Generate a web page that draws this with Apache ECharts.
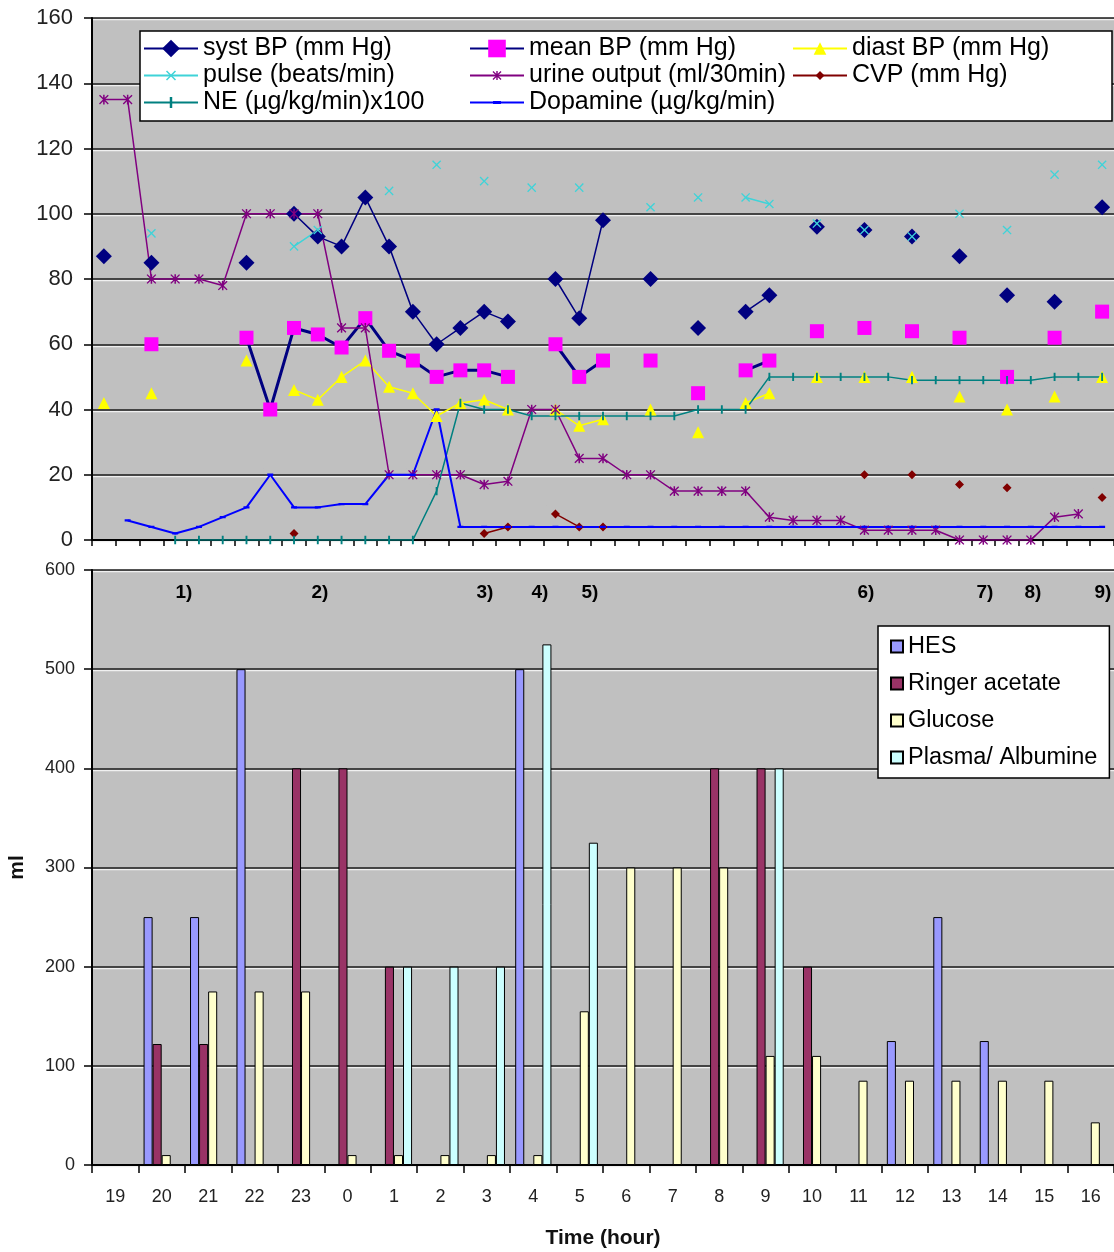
<!DOCTYPE html>
<html><head><meta charset="utf-8">
<script src="https://cdn.jsdelivr.net/npm/echarts@6/dist/echarts.min.js"></script>
<style>html,body{margin:0;padding:0;background:#fff}#c{width:1114px;height:1252px}</style>
</head><body><div id="c"></div>
<script>
// ---------- DATA ----------
const halfHours = ['19:00','19:30','20:00','20:30','21:00','21:30','22:00','22:30','23:00','23:30',
  '0:00','0:30','1:00','1:30','2:00','2:30','3:00','3:30','4:00','4:30','5:00','5:30','6:00','6:30',
  '7:00','7:30','8:00','8:30','9:00','9:30','10:00','10:30','11:00','11:30','12:00','12:30','13:00',
  '13:30','14:00','14:30','15:00','15:30','16:00'];
const hours = ['19','20','21','22','23','0','1','2','3','4','5','6','7','8','9','10','11','12','13','14','15','16'];

const systBP = [87,null,85,null,null,null,85,null,100,93,90,105,90,70,60,65,70,67,null,80,68,98,null,80,null,65,null,70,75,null,96,null,95,null,93,null,87,null,75,null,73,null,102];
const meanBP = [null,null,60,null,null,null,62,40,65,63,59,68,58,55,50,52,52,50,null,60,50,55,null,55,null,45,null,52,55,null,64,null,65,null,64,null,62,null,50,null,62,null,70];
const diastBP = [42,null,45,null,null,null,55,null,46,43,50,55,47,45,38,42,43,40,null,40,35,37,null,40,null,33,null,42,45,null,50,null,50,null,50,null,44,null,40,null,44,null,50];
const pulse = [null,null,94,null,null,null,null,null,90,95,null,null,107,null,115,null,110,null,108,null,108,null,null,102,null,105,null,105,103,null,97,null,95,null,93,null,100,null,95,null,112,null,115];
const urine = [135,135,80,80,80,78,100,100,100,100,65,65,20,20,20,20,17,18,40,40,25,25,20,20,15,15,15,15,7,6,6,6,3,3,3,3,0,0,0,0,7,8,null];
const cvp = [null,null,null,null,null,null,null,null,2,null,null,null,null,null,null,null,2,4,null,8,4,4,null,null,null,null,null,null,null,null,null,null,20,null,20,null,17,null,16,null,null,null,13];
const ne = [null,null,null,0,0,0,0,0,0,0,0,0,0,0,15,42,40,40,38,38,38,38,38,38,38,40,40,40,50,50,50,50,50,50,49,49,49,49,49,49,50,50,50];
const dopamine = [null,6,4,2,4,7,10,20,10,10,11,11,20,20,40,4,4,4,4,4,4,4,4,4,4,4,4,4,4,4,4,4,4,4,4,4,4,4,4,4,4,4,4];

const hes =     [null,250,250,500,null,null,null,null,null,500,null,null,null,null,null,null,null,125,250,125,null,null];
const ringer =  [null,122,122,null,400,400,200,null,null,null,null,null,null,400,400,200,null,null,null,null,null,null];
const glucose = [null,10,175,175,175,10,10,10,10,10,155,300,300,300,110,110,85,85,85,85,85,43];
const plasma =  [null,null,null,null,null,null,200,200,200,525,325,null,null,null,400,null,null,null,null,null,null,null];

const topTicks = [0,20,40,60,80,100,120,140,160];
const bottomTicks = [0,100,200,300,400,500,600];
const notes = ['1)','2)','3)','4)','5)','6)','7)','8)','9)'];

// ---------- LAYOUT / STYLE ----------
const noteX = [184,320,485,540,590,866,985,1033,1103];
const FONT = 'Liberation Sans, Arial, sans-serif';
const corners = 'M0,0L0.05,0L0,0.05Z M10,10L9.95,10L10,9.95Z ';
const crossPath = 'path://' + corners + 'M2.15,2.75L2.75,2.15L5,4.4L7.25,2.15L7.85,2.75L5.6,5L7.85,7.25L7.25,7.85L5,5.6L2.75,7.85L2.15,7.25L4.4,5Z';
const starPath = 'path://' + corners + 'M2.45,2.95L2.95,2.45L5,4.5L7.05,2.45L7.55,2.95L5.5,5L7.55,7.05L7.05,7.55L5,5.5L2.95,7.55L2.45,7.05L4.5,5Z M4.6,2.45L5.4,2.45L5.4,7.55L4.6,7.55Z';
const smallDiamond = 'path://' + corners + 'M5,2.45L7.55,5L5,7.55L2.45,5Z';
const smallTriangle = 'path://' + corners + 'M5,1.4L8.6,8.6L1.4,8.6Z';
const tickPath = 'path://' + corners + 'M4.3,1.9L5.7,1.9L5.7,8.1L4.3,8.1Z';
const dashPath = 'path://' + corners + 'M2.75,4.15L7.25,4.15L7.25,5.85L2.75,5.85Z';
const split = {show:true, lineStyle:{color:'#1a1a1a', width:1.5, shadowColor:'#f0f0f0', shadowOffsetY:1.5, shadowBlur:0}};

function line(name, data, opt) {
  return Object.assign({
    name, type:'line', data, xAxisIndex:0, yAxisIndex:0,
    showAllSymbol:true, connectNulls:false, animation:false
  }, opt);
}
function bar(name, data, color) {
  return {name, type:'bar', data, xAxisIndex:1, yAxisIndex:1, barGap:'0%', barCategoryGap:'22%',
    itemStyle:{color, borderColor:'#000', borderWidth:1}, animation:false};
}
const legendCommon = {orient:'vertical', itemWidth:54, itemHeight:22, itemGap:0, padding:0,
  selectedMode:false, z:10, textStyle:{fontSize:25, lineHeight:27, fontFamily:FONT, color:'#000'}};

const chart = echarts.init(document.getElementById('c'));
chart.setOption({
  backgroundColor:'#fff',
  animation:false,
  textStyle:{fontFamily:FONT},
  grid:[
    {left:92, right:0, top:18, height:522, show:true, backgroundColor:'#c0c0c0', borderWidth:0, outerBoundsMode:'none', containLabel:false},
    {left:92, right:0, top:570, height:595, show:true, backgroundColor:'#c0c0c0', borderWidth:0, outerBoundsMode:'none', containLabel:false}
  ],
  xAxis:[
    {type:'category', gridIndex:0, data:halfHours, boundaryGap:true,
     axisLine:{lineStyle:{color:'#000', width:2}},
     axisTick:{show:true, interval:0, length:6, lineStyle:{color:'#000', width:1.5}},
     axisLabel:{show:false}, splitLine:{show:false}},
    {type:'category', gridIndex:1, data:hours, boundaryGap:true,
     axisLine:{lineStyle:{color:'#000', width:2}},
     axisTick:{show:true, interval:0, length:8, lineStyle:{color:'#000', width:1.5}},
     axisLabel:{fontSize:18, color:'#222', margin:23, interval:0},
     name:'Time (hour)', nameLocation:'middle', nameGap:63,
     nameTextStyle:{fontSize:21, fontWeight:'bold', color:'#111'}}
  ],
  yAxis:[
    {type:'value', gridIndex:0, min:topTicks[0], max:topTicks[topTicks.length-1], interval:20,
     axisLine:{show:true, lineStyle:{color:'#000', width:2}},
     axisTick:{show:true, length:8, lineStyle:{color:'#000', width:1.5}},
     axisLabel:{fontSize:22, color:'#222', margin:19}, splitLine:split},
    {type:'value', gridIndex:1, min:bottomTicks[0], max:bottomTicks[bottomTicks.length-1], interval:100,
     axisLine:{show:true, lineStyle:{color:'#000', width:2}},
     axisTick:{show:true, length:8, lineStyle:{color:'#000', width:1.5}},
     axisLabel:{fontSize:18, color:'#222', margin:17}, splitLine:split,
     name:'ml', nameLocation:'middle', nameGap:64,
     nameTextStyle:{fontSize:21, fontWeight:'bold', color:'#111'}}
  ],
  legend:[
    Object.assign({}, legendCommon, {left:143, top:35, data:['syst BP (mm Hg)','pulse (beats/min)','NE (µg/kg/min)x100']}),
    Object.assign({}, legendCommon, {left:469, top:35, data:['mean BP (mm Hg)','urine output (ml/30min)','Dopamine (µg/kg/min)']}),
    Object.assign({}, legendCommon, {left:792, top:35, data:['diast BP (mm Hg)','CVP (mm Hg)']}),
    {orient:'vertical', left:878, top:626, itemWidth:12, itemHeight:12, itemGap:0, icon:'rect',
     padding:[2,12,2,12], backgroundColor:'#fff', borderColor:'#000', borderWidth:1.5,
     selectedMode:false, z:10,
     textStyle:{fontSize:23.5, lineHeight:37, fontFamily:FONT, color:'#000'},
     data:['HES','Ringer acetate','Glucose','Plasma/ Albumine']}
  ],
  graphic:[
    {type:'rect', z:5, shape:{x:140, y:31, width:972, height:90},
     style:{fill:'#fff', stroke:'#000', lineWidth:1.5}}
  ].concat(notes.map((t,i)=>({type:'text', z:6, x:noteX[i], y:593,
     style:{text:t, font:'bold 19px '+FONT, fill:'#000', align:'center', verticalAlign:'middle'}}))),
  series:[
    line('syst BP (mm Hg)', systBP, {symbol:'diamond', symbolSize:16,
      itemStyle:{color:'#000080'}, lineStyle:{color:'#000080', width:1.5}}),
    line('mean BP (mm Hg)', meanBP, {symbol:'rect', symbolSize:14,
      itemStyle:{color:'#ff00ff'}, lineStyle:{color:'#000080', width:3}}),
    line('diast BP (mm Hg)', diastBP, {symbol:smallTriangle, symbolSize:16.7,
      itemStyle:{color:'#ffff00'}, lineStyle:{color:'#ffff00', width:1.5}}),
    line('pulse (beats/min)', pulse, {symbol:crossPath, symbolSize:16,
      itemStyle:{color:'#3fd3d8'}, lineStyle:{color:'#3fd3d8', width:1.5}}),
    line('urine output (ml/30min)', urine, {symbol:starPath, symbolSize:19,
      itemStyle:{color:'#800080'}, lineStyle:{color:'#800080', width:1.5}}),
    line('CVP (mm Hg)', cvp, {symbol:smallDiamond, symbolSize:17.6,
      itemStyle:{color:'#800000'}, lineStyle:{color:'#800000', width:1.5}}),
    line('NE (µg/kg/min)x100', ne, {symbol:tickPath, symbolSize:13.5,
      itemStyle:{color:'#008080'}, lineStyle:{color:'#008080', width:1.5}}),
    line('Dopamine (µg/kg/min)', dopamine, {symbol:dashPath, symbolSize:13.3,
      itemStyle:{color:'#0000ff'}, lineStyle:{color:'#0000ff', width:2}}),
    bar('HES', hes, '#9999ff'),
    bar('Ringer acetate', ringer, '#993366'),
    bar('Glucose', glucose, '#ffffcc'),
    bar('Plasma/ Albumine', plasma, '#ccffff')
  ]
});
</script></body></html>
